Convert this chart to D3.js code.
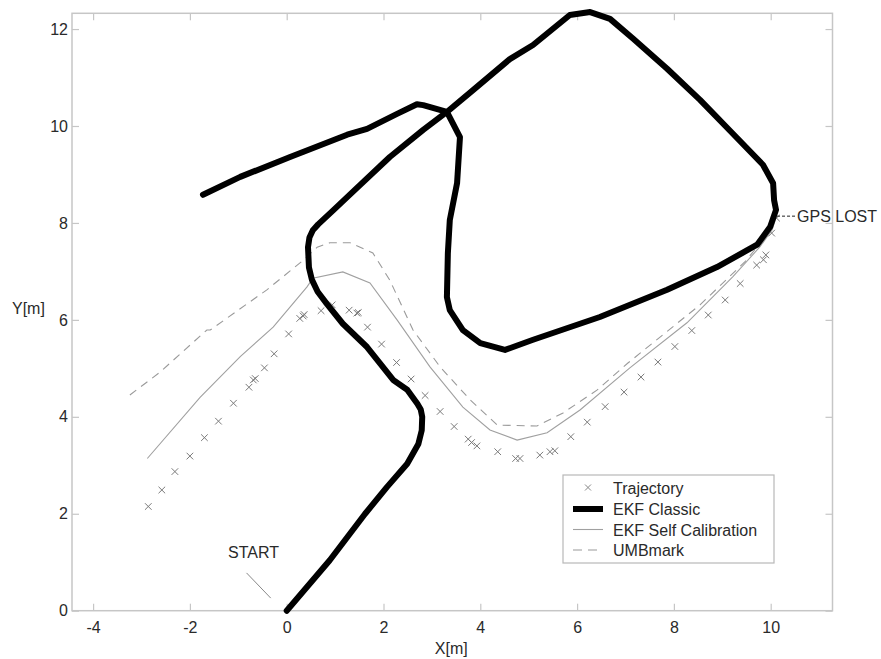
<!DOCTYPE html>
<html>
<head>
<meta charset="utf-8">
<script src="https://cdn.jsdelivr.net/npm/d3@7/dist/d3.min.js"></script>
<style>
  html, body { margin: 0; padding: 0; background: #fff; }
  svg { display: block; font-family: "Liberation Sans", Arial, sans-serif; }
</style>
</head>
<body>
<svg id="chart" width="881" height="659"></svg>
<script>
// Axis ticks
const xTicks = [-4, -2, 0, 2, 4, 6, 8, 10];
const yTicks = [0, 2, 4, 6, 8, 10, 12];

// Reference trajectory samples [x, y] in metres
const trajectory = [
  [-2.86, 2.15], [-2.58, 2.49], [-2.31, 2.87], [-2.00, 3.19], [-1.70, 3.57],
  [-1.41, 3.91], [-1.10, 4.28], [-0.78, 4.61], [-0.69, 4.76], [-0.65, 4.79],
  [-0.46, 5.01], [-0.26, 5.30], [0.04, 5.71], [0.27, 6.03], [0.34, 6.08],
  [0.36, 6.11], [0.71, 6.19], [0.94, 6.31], [1.29, 6.20], [1.45, 6.14],
  [1.48, 6.15], [1.67, 5.85], [1.96, 5.50], [2.27, 5.12], [2.57, 4.78],
  [2.86, 4.44], [3.17, 4.11], [3.46, 3.80], [3.75, 3.54], [3.82, 3.47],
  [3.93, 3.40], [4.36, 3.28], [4.73, 3.14], [4.82, 3.14], [5.23, 3.21],
  [5.44, 3.28], [5.54, 3.30], [5.87, 3.59], [6.21, 3.89], [6.58, 4.21],
  [6.97, 4.51], [7.32, 4.82], [7.67, 5.13], [8.02, 5.45], [8.37, 5.78],
  [8.71, 6.10], [9.06, 6.41], [9.37, 6.75], [9.71, 7.13], [9.85, 7.24],
  [9.90, 7.34], [10.02, 7.79], [10.12, 8.10]
];

// EKF classic estimate
const ekfClassic = [
  [0.00, 0.00], [0.89, 1.04], [1.62, 2.00], [2.07, 2.55], [2.49, 3.03],
  [2.72, 3.44], [2.79, 3.72], [2.80, 4.00], [2.77, 4.15], [2.70, 4.27],
  [2.49, 4.56], [2.20, 4.76], [1.66, 5.44], [1.16, 5.92], [0.83, 6.33],
  [0.64, 6.58], [0.52, 6.83], [0.46, 7.08], [0.44, 7.50], [0.47, 7.70],
  [0.54, 7.85], [0.65, 7.97], [0.96, 8.26], [1.31, 8.59],
  [2.13, 9.36], [2.82, 9.92], [3.31, 10.29], [3.85, 10.74], [4.61, 11.38],
  [5.09, 11.67], [5.85, 12.29], [6.27, 12.35], [6.68, 12.21], [7.16, 11.80],
  [7.86, 11.18], [8.54, 10.54], [9.22, 9.84], [9.84, 9.20], [10.05, 8.82],
  [10.07, 8.47], [10.11, 8.27], [9.99, 7.92], [9.72, 7.55], [8.89, 7.09],
  [7.86, 6.62], [6.47, 6.06], [5.09, 5.59], [4.51, 5.38], [4.00, 5.52],
  [3.64, 5.79], [3.37, 6.20], [3.31, 6.47], [3.33, 7.38], [3.37, 8.06],
  [3.52, 8.82], [3.58, 9.77], [3.31, 10.29], [2.82, 10.43], [2.69, 10.45],
  [2.28, 10.25], [1.66, 9.94], [1.25, 9.82], [0.07, 9.36], [-0.96, 8.95],
  [-1.73, 8.58]
];

// EKF with self calibration
const ekfSelfCal = [
  [-2.88, 3.14], [-1.79, 4.40], [-0.96, 5.24], [-0.28, 5.85], [0.42, 6.68],
  [0.54, 6.86], [1.16, 6.99], [1.72, 6.76], [2.28, 6.00], [2.96, 5.03],
  [3.64, 4.20], [4.20, 3.73], [4.76, 3.52], [5.38, 3.67], [6.06, 4.14],
  [7.09, 5.01], [8.27, 5.94], [9.22, 6.89], [9.78, 7.51], [10.03, 7.86],
  [10.11, 8.11]
];

// UMBmark-calibrated odometry
const umbmark = [
  [-3.24, 4.45], [-2.62, 4.92], [-1.65, 5.79], [-1.58, 5.79], [-0.41, 6.62],
  [0.34, 7.23], [0.63, 7.50], [0.89, 7.59], [1.31, 7.59], [1.78, 7.38],
  [2.13, 6.82], [2.61, 5.79], [3.17, 5.03], [3.79, 4.35], [4.35, 3.83],
  [5.17, 3.81], [5.71, 4.08], [6.41, 4.55], [7.05, 5.11], [8.54, 6.31],
  [9.47, 7.20], [9.88, 7.70], [10.11, 8.11]
];

const legendLabels = ["Trajectory", "EKF Classic", "EKF Self Calibration", "UMBmark"];

// Annotation anchors (data coordinates)
const gpsLostAt = [10.11, 8.14];
const startFrom = [-0.83, 0.78];
const startTo = [-0.33, 0.26];

const W = 881, H = 659;
const margin = { top: 13.3, right: 48.5, bottom: 48.3, left: 72 };
const svg = d3.select("#chart");

const x = d3.scaleLinear().domain([-4.436, 11.277]).range([margin.left, W - margin.right]);
const y = d3.scaleLinear().domain([0, 12.325]).range([H - margin.bottom, margin.top]);

const frameColor = "#c6c6c6";
const textColor = "#2a2a2a";
const plain = d => String(d);

// Axes with inward ticks on all four sides
const gx = svg.append("g").attr("transform", `translate(0,${y(0)})`)
  .call(d3.axisBottom(x).tickValues(xTicks).tickSizeInner(-7).tickSizeOuter(0).tickPadding(11).tickFormat(plain));
const gxTop = svg.append("g").attr("transform", `translate(0,${margin.top})`)
  .call(d3.axisTop(x).tickValues(xTicks).tickSizeInner(-7).tickSizeOuter(0).tickFormat(""));
const gy = svg.append("g").attr("transform", `translate(${margin.left},0)`)
  .call(d3.axisLeft(y).tickValues(yTicks).tickSizeInner(-7).tickSizeOuter(0).tickPadding(4).tickFormat(plain));
const gyRight = svg.append("g").attr("transform", `translate(${W - margin.right},0)`)
  .call(d3.axisRight(y).tickValues(yTicks).tickSizeInner(-7).tickSizeOuter(0).tickFormat(""));

[gx, gxTop, gy, gyRight].forEach(g => {
  g.select(".domain").remove();
  g.selectAll(".tick line").attr("stroke", frameColor).attr("stroke-width", 1.2);
  g.selectAll(".tick text").attr("fill", textColor).attr("font-size", 16)
    .attr("font-family", "'Liberation Sans', Arial, sans-serif");
});

// Plot box
svg.append("rect")
  .attr("x", x.range()[0]).attr("y", margin.top)
  .attr("width", x.range()[1] - x.range()[0])
  .attr("height", y(0) - margin.top)
  .attr("fill", "none").attr("stroke", frameColor).attr("stroke-width", 1.5);

// Axis titles
svg.append("text").attr("x", x(3.4)).attr("y", 654).attr("text-anchor", "middle")
  .attr("font-size", 16).attr("fill", textColor).text("X[m]");
svg.append("text").attr("x", 12).attr("y", 314).attr("text-anchor", "start")
  .attr("font-size", 16).attr("fill", textColor).text("Y[m]");

const line = d3.line().x(d => x(d[0])).y(d => y(d[1]));
const plot = svg.append("g");

// UMBmark (dashed)
plot.append("path").datum(umbmark).attr("d", line)
  .attr("fill", "none").attr("stroke", "#9a9a9a").attr("stroke-width", 1.1)
  .attr("stroke-dasharray", "8,6");

// EKF self calibration (thin solid)
plot.append("path").datum(ekfSelfCal).attr("d", line)
  .attr("fill", "none").attr("stroke", "#a0a0a0").attr("stroke-width", 1.1);

// Trajectory crosses
const cross = (cx, cy, r) => `M${cx - r},${cy - r}L${cx + r},${cy + r}M${cx - r},${cy + r}L${cx + r},${cy - r}`;
plot.append("g").selectAll("path").data(trajectory).join("path")
  .attr("d", d => cross(x(d[0]), y(d[1]), 3.3))
  .attr("fill", "none").attr("stroke", "#7a7a7a").attr("stroke-width", 1);

// EKF classic (thick)
plot.append("path").datum(ekfClassic).attr("d", line)
  .attr("fill", "none").attr("stroke", "#000").attr("stroke-width", 6)
  .attr("stroke-linejoin", "round").attr("stroke-linecap", "round");

// GPS LOST annotation
const gx0 = x(gpsLostAt[0]), gy0 = y(gpsLostAt[1]);
svg.append("line").attr("x1", gx0 + 1).attr("x2", gx0 + 19).attr("y1", gy0).attr("y2", gy0)
  .attr("stroke", "#222").attr("stroke-width", 1).attr("stroke-dasharray", "3,2");
svg.append("text").attr("x", gx0 + 21).attr("y", gy0 + 6).attr("font-size", 16)
  .attr("fill", textColor).text("GPS LOST");

// START annotation
svg.append("line").attr("x1", x(startFrom[0])).attr("y1", y(startFrom[1]))
  .attr("x2", x(startTo[0])).attr("y2", y(startTo[1]))
  .attr("stroke", "#888").attr("stroke-width", 1);
svg.append("text").attr("x", 228).attr("y", 557.5).attr("font-size", 16)
  .attr("fill", textColor).text("START");

// Legend
const lg = svg.append("g").attr("transform", "translate(563,475)");
lg.append("rect").attr("width", 211).attr("height", 88)
  .attr("fill", "#fff").attr("stroke", "#b8b8b8").attr("stroke-width", 1.2);
const rowY = [12.5, 34, 54.5, 75];
lg.append("path").attr("d", cross(25, rowY[0], 3))
  .attr("fill", "none").attr("stroke", "#888").attr("stroke-width", 1);
lg.append("line").attr("x1", 10).attr("x2", 40).attr("y1", rowY[1]).attr("y2", rowY[1])
  .attr("stroke", "#000").attr("stroke-width", 6);
lg.append("line").attr("x1", 10).attr("x2", 40).attr("y1", rowY[2]).attr("y2", rowY[2])
  .attr("stroke", "#a0a0a0").attr("stroke-width", 1.1);
lg.append("line").attr("x1", 10).attr("x2", 40).attr("y1", rowY[3]).attr("y2", rowY[3])
  .attr("stroke", "#9a9a9a").attr("stroke-width", 1.1).attr("stroke-dasharray", "9,6");
lg.selectAll("text.lab").data(legendLabels).join("text").attr("class", "lab")
  .attr("x", 50).attr("y", (d, i) => rowY[i] + 6)
  .attr("font-size", 16).attr("fill", textColor).text(d => d);
</script>
</body>
</html>
